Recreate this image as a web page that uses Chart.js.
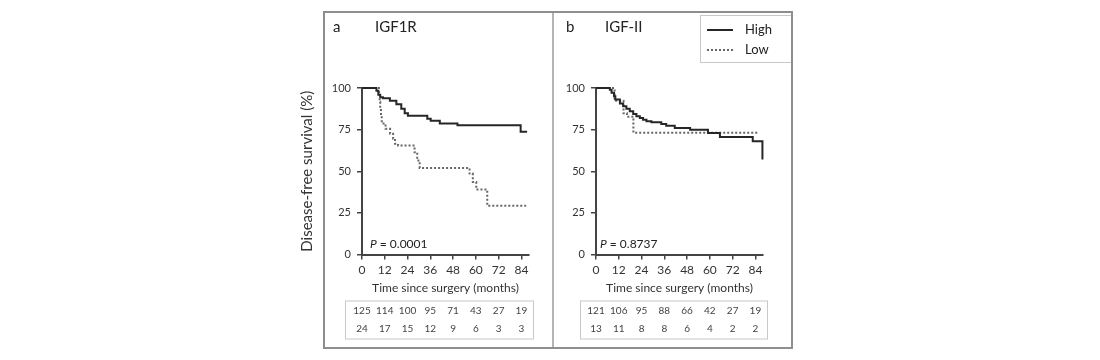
<!DOCTYPE html>
<html>
<head>
<meta charset="utf-8">
<script src="https://cdn.jsdelivr.net/npm/chart.js@4.4.1/dist/chart.umd.min.js"></script>
<style>
  body { margin: 0; background: #fff; font-family: Lato, sans-serif; }
  #wrap { position: relative; width: 1100px; height: 360px; overflow: hidden; }
  .panel { position: absolute; top: 12px; height: 337px; }
  #pa { left: 290px; width: 263px; }
  #pb { left: 553px; width: 240px; }
  #frame { position: absolute; left: 323px; top: 11px; width: 470px; height: 338px; border: 2px solid #8e8e8e; box-sizing: border-box; pointer-events: none; }
  #divider { position: absolute; left: 552px; top: 11px; width: 2px; height: 338px; background: #b4b4b4; pointer-events: none; }
</style>
</head>
<body>
<div id="wrap">
  <div class="panel" id="pa"><canvas id="chartA"></canvas></div>
  <div class="panel" id="pb"><canvas id="chartB"></canvas></div>
  <div id="divider"></div>
  <div id="frame"></div>
</div>
<script>
// panel a - IGF1R
const monthsHighA = [0, 7.6, 8.6, 9.6, 11, 14.7, 18.1, 20.7, 22.5, 24.2, 34.4, 36.2, 41, 50.3, 83.6, 87]
const survHighA = [100, 98.4, 96, 94.5, 93.8, 92.3, 90.3, 87.5, 84.9, 83.3, 81.6, 80.3, 78.7, 77.7, 73.7, 73.7]
const monthsLowA = [0, 8.9, 9.3, 9.6, 10, 10.4, 12.4, 14.8, 16.4, 17.4, 19, 27.7, 29.1, 30.4, 56.7, 58.4, 60.2, 66, 86.5]
const survLowA = [100, 95.8, 91.7, 87.5, 83.3, 78.7, 75.5, 72.5, 69.5, 66.5, 65.5, 61.4, 56.4, 52, 48.6, 43.6, 39, 29.3, 29.3]

// panel b - IGF-II
const monthsHighB = [0, 7.3, 8.2, 9.5, 10.2, 12.6, 14.3, 16, 17.8, 19.6, 21.3, 23.1, 24.8, 26.6, 29.2, 34.4, 37, 41.5, 49.6, 59, 65.3, 82.6, 87.7]
const survHighB = [100, 99, 97.1, 95, 93.1, 90.7, 89, 87.5, 86, 84.4, 83, 82, 81, 80, 79.4, 78.4, 77.4, 76, 75, 73, 70.6, 68, 57]
const monthsLowB = [0, 9.8, 14.5, 16.3, 19.7, 85.4]
const survLowB = [100, 92.3, 84.8, 82.8, 73.1, 73.1]

// numbers at risk
const riskMonths = [0, 12, 24, 36, 48, 60, 72, 84]
const riskHighA = [125, 114, 100, 95, 71, 43, 27, 19]
const riskLowA = [24, 17, 15, 12, 9, 6, 3, 3]
const riskHighB = [121, 106, 95, 88, 66, 42, 27, 19]
const riskLowB = [13, 11, 8, 8, 6, 4, 2, 2]

const xMax = 88
const yTicks = [0, 25, 50, 75, 100]

Chart.defaults.font.family = 'Lato, "Open Sans", sans-serif'
Chart.defaults.color = '#333'

const toPoints = (months, surv) => months.map((m, i) => ({ x: m, y: surv[i] }))

const highStyle = { borderColor: '#262626', borderWidth: 2 }
const lowStyle = { borderColor: '#666', borderWidth: 2, borderDash: [2, 2] }

const panelText = {
  id: 'panelText',
  afterDraw (chart, args, opts) {
    const { ctx, chartArea: area, scales: { x } } = chart
    ctx.save()
    ctx.fillStyle = '#222'
    ctx.textBaseline = 'middle'
    ctx.textAlign = 'left'

    // panel letter and title
    ctx.font = '15px Lato'
    ctx.fillText(opts.letter, area.left + opts.letterDx, 15)
    ctx.fillText(opts.title, area.left + opts.titleDx, 15)

    // p value
    const py = area.bottom - 10
    let px = area.left + opts.pDx
    ctx.font = 'italic 12px Lato'
    ctx.fillText('P', px, py)
    px += ctx.measureText('P').width
    ctx.font = '12px Lato'
    ctx.fillText(' = ' + opts.pValue, px, py)

    // numbers at risk box
    const top = area.bottom + 46
    const bottom = area.bottom + 84
    const left = area.left - opts.boxDx
    const right = area.right + 4
    ctx.strokeStyle = '#c8c8c8'
    ctx.lineWidth = 1
    ctx.strokeRect(left + 0.5, top + 0.5, right - left, bottom - top)
    ctx.font = '10px Lato'
    ctx.fillStyle = '#444'
    ctx.textAlign = 'center'
    riskMonths.forEach((m, i) => {
      const cx = x.getPixelForValue(m)
      ctx.fillText(String(opts.riskHigh[i]), cx, area.bottom + 56.5)
      ctx.fillText(String(opts.riskLow[i]), cx, area.bottom + 74.5)
    })

    // legend
    if (opts.legend) {
      const lx = area.left + 104
      ctx.strokeStyle = '#c8c8c8'
      ctx.strokeRect(lx + 0.5, 3.5, 91, 47)
      ctx.textAlign = 'left'
      ctx.font = '13px Lato'
      ctx.fillStyle = '#222'
      chart.data.datasets.forEach((ds, i) => {
        const ly = 18 + i * 20
        ctx.beginPath()
        ctx.strokeStyle = ds.borderColor
        ctx.lineWidth = ds.borderWidth
        ctx.setLineDash(ds.borderDash || [])
        ctx.moveTo(lx + 7, ly)
        ctx.lineTo(lx + 33, ly)
        ctx.stroke()
        ctx.fillText(ds.label, lx + 45, ly)
      })
      ctx.setLineDash([])
    }
    ctx.restore()
  }
}

const makePanel = (id, { high, low, yWidth, padLeft, padRight, yTitle, text }) => new Chart(document.getElementById(id), {
  type: 'line',
  data: {
    datasets: [
      { label: 'High', data: high, ...highStyle, pointRadius: 0, stepped: true, fill: false, clip: false },
      { label: 'Low', data: low, ...lowStyle, pointRadius: 0, stepped: true, fill: false, clip: false },
    ]
  },
  options: {
    responsive: true,
    maintainAspectRatio: false,
    animation: false,
    devicePixelRatio: 1,
    layout: { padding: { left: padLeft, right: padRight, top: 76, bottom: 51.5 } },
    plugins: {
      legend: { display: false },
      tooltip: { enabled: false },
      panelText: text,
    },
    scales: {
      x: {
        type: 'linear',
        min: 0,
        max: xMax,
        border: { color: '#444', width: 2 },
        grid: { drawOnChartArea: false, tickLength: 5, color: '#444', lineWidth: 1.5 },
        ticks: { stepSize: 12, includeBounds: false, autoSkip: false, maxRotation: 0, padding: 3, color: '#333', font: { size: 12 } },
        title: { display: true, text: 'Time since surgery (months)', color: '#333', font: { size: 12 }, padding: { top: 0, bottom: 2 } },
        afterFit: s => { s.height = 43 },
      },
      y: {
        min: 0,
        max: 100,
        border: { color: '#444', width: 2 },
        grid: { drawOnChartArea: false, tickLength: 5, color: '#444', lineWidth: 1.5 },
        afterBuildTicks: s => { s.ticks = yTicks.map(v => ({ value: v })) },
        ticks: { padding: 6, color: '#333', font: { size: 11 } },
        title: yTitle
          ? { display: true, text: 'Disease-free survival (%)', color: '#333', font: { size: 15 }, padding: { top: 8, bottom: 0 } }
          : { display: false },
        afterFit: s => { s.width = yWidth },
      }
    }
  },
  plugins: [panelText]
})

makePanel('chartA', {
  high: toPoints(monthsHighA, survHighA),
  low: toPoints(monthsLowA, survLowA),
  yWidth: 72,
  padLeft: 0,
  padRight: 24,
  yTitle: true,
  text: { letter: 'a', title: 'IGF1R', letterDx: -29, titleDx: 13, pDx: 8, pValue: '0.0001', boxDx: 17, riskHigh: riskHighA, riskLow: riskLowA, legend: false },
})

makePanel('chartB', {
  high: toPoints(monthsHighB, survHighB),
  low: toPoints(monthsLowB, survLowB),
  yWidth: 43,
  padLeft: 0,
  padRight: 30,
  yTitle: false,
  text: { letter: 'b', title: 'IGF-II', letterDx: -30, titleDx: 9, pDx: 4, pValue: '0.8737', boxDx: 16, riskHigh: riskHighB, riskLow: riskLowB, legend: true },
})
</script>
</body>
</html>
